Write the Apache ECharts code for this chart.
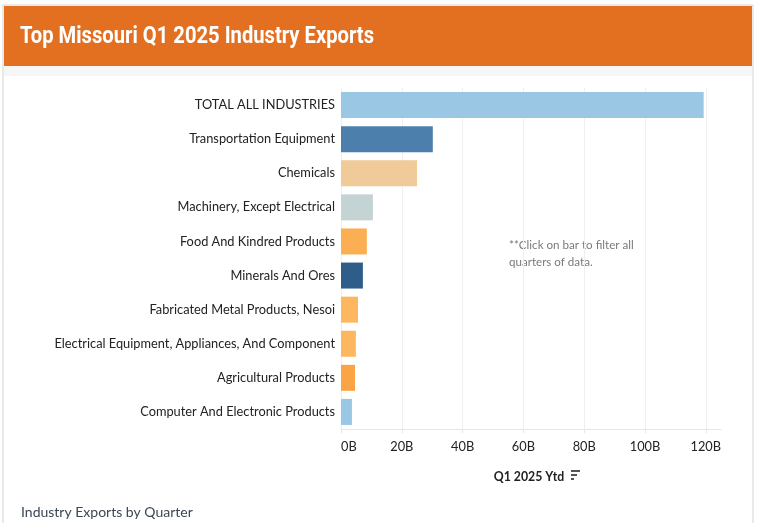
<!DOCTYPE html>
<html>
<head>
<meta charset="utf-8">
<script src="https://cdn.jsdelivr.net/npm/echarts@6/dist/echarts.min.js"></script>
<style>
  html, body { margin: 0; padding: 0; background: #fff; }
  #chart { width: 757px; height: 523px; }
</style>
</head>
<body>
<div id="chart"></div>
<script>
// industries, top to bottom
var categories = [
    'TOTAL ALL INDUSTRIES',
    'Transportation Equipment',
    'Chemicals',
    'Machinery, Except Electrical',
    'Food And Kindred Products',
    'Minerals And Ores',
    'Fabricated Metal Products, Nesoi',
    'Electrical Equipment, Appliances, And Component',
    'Agricultural Products',
    'Computer And Electronic Products'
];
// Q1 2025 ytd exports, billions of dollars
var exportsB = [119.3, 30.2, 25.0, 10.5, 8.5, 7.2, 5.6, 4.9, 4.6, 3.6];
var xTicks = [0, 20, 40, 60, 80, 100, 120];

var barColors = ['#9AC7E3', '#4D7FAD', '#F0CA99', '#C4D4D4', '#FBAE52',
                 '#2E5D8A', '#FDB75F', '#FDB75F', '#FBA445', '#9AC7E3'];

var titleText = 'Top Missouri Q1 2025 Industry Exports';

var chartDom = document.getElementById('chart');
var myChart = echarts.init(chartDom);
var font = 'Lato, "Noto Sans", sans-serif';

// no condensed face installed, so squeeze a bold one to the header width
var titleFont = 'bold 23px Roboto, "Liberation Sans", sans-serif';
var ctx = document.createElement('canvas').getContext('2d');
ctx.font = titleFont;
var titleScale = 354 / ctx.measureText(titleText).width;

var option = {
    animation: false,
    backgroundColor: '#fff',
    graphic: [
        // frame, header and the grey strip under it
        {type: 'rect', z: -10, shape: {x: 3, y: 5, width: 750, height: 530},
         style: {fill: '#fff', stroke: '#d4d4d4', lineWidth: 1}},
        {type: 'rect', z: -9, shape: {x: 4, y: 6, width: 748, height: 60},
         style: {fill: '#E37021'}},
        {type: 'rect', z: -9, shape: {x: 4, y: 66, width: 748, height: 10},
         style: {fill: '#F6F6F6'}},
        {type: 'text', x: 20, y: 37, scaleX: titleScale,
         style: {text: titleText, fill: '#fff', font: titleFont, verticalAlign: 'middle'}},
        {type: 'text', left: 509, top: 237,
         style: {text: '**Click on bar to filter all\nquarters of data.', fill: '#7a7a7a',
                 fontSize: 11.6, lineHeight: 17, fontFamily: font}},
        {type: 'text', left: 21, top: 505,
         style: {text: 'Industry Exports by Quarter', fill: '#3c4654',
                 fontSize: 14, fontFamily: font}},
        // sort icon next to the axis title
        {type: 'rect', shape: {x: 571, y: 470, width: 9, height: 2}, style: {fill: '#555'}},
        {type: 'rect', shape: {x: 571, y: 474, width: 6, height: 2}, style: {fill: '#555'}},
        {type: 'rect', shape: {x: 571, y: 478, width: 3, height: 2}, style: {fill: '#555'}}
    ],
    grid: {
        left: 341,
        right: 36,
        top: 88,
        bottom: 94
    },
    xAxis: {
        type: 'value',
        min: xTicks[0],
        max: 125,
        interval: 20,
        name: 'Q1 2025 Ytd',
        nameLocation: 'middle',
        nameGap: 42,
        nameTextStyle: {color: '#222', fontSize: 12.3, fontWeight: 'bold', fontFamily: font, padding: [0, 4, 0, 0]},
        axisLine: {show: true, lineStyle: {color: '#e6e6e6'}},
        axisTick: {show: true, length: 4, lineStyle: {color: '#e6e6e6'}},
        axisLabel: {
            color: '#222',
            fontSize: 12.8,
            fontFamily: font,
            margin: 11,
            showMaxLabel: false,
            alignMinLabel: 'left',
            formatter: function (v) {
                return xTicks.indexOf(v) >= 0 ? v + 'B' : '';
            }
        },
        splitLine: {show: true, showMaxLine: false, lineStyle: {color: '#efefef'}}
    },
    yAxis: {
        type: 'category',
        inverse: true,
        data: categories,
        axisLine: {show: false},
        axisTick: {show: false},
        axisLabel: {color: '#222', fontSize: 12.8, fontFamily: font, margin: 6}
    },
    series: [
        {
            type: 'bar',
            barWidth: 26,
            data: exportsB.map(function (v, i) {
                return {value: v, itemStyle: {color: barColors[i]}};
            })
        }
    ]
};

option && myChart.setOption(option);
window.addEventListener('resize', function () {
    myChart.resize();
});
</script>
</body>
</html>
